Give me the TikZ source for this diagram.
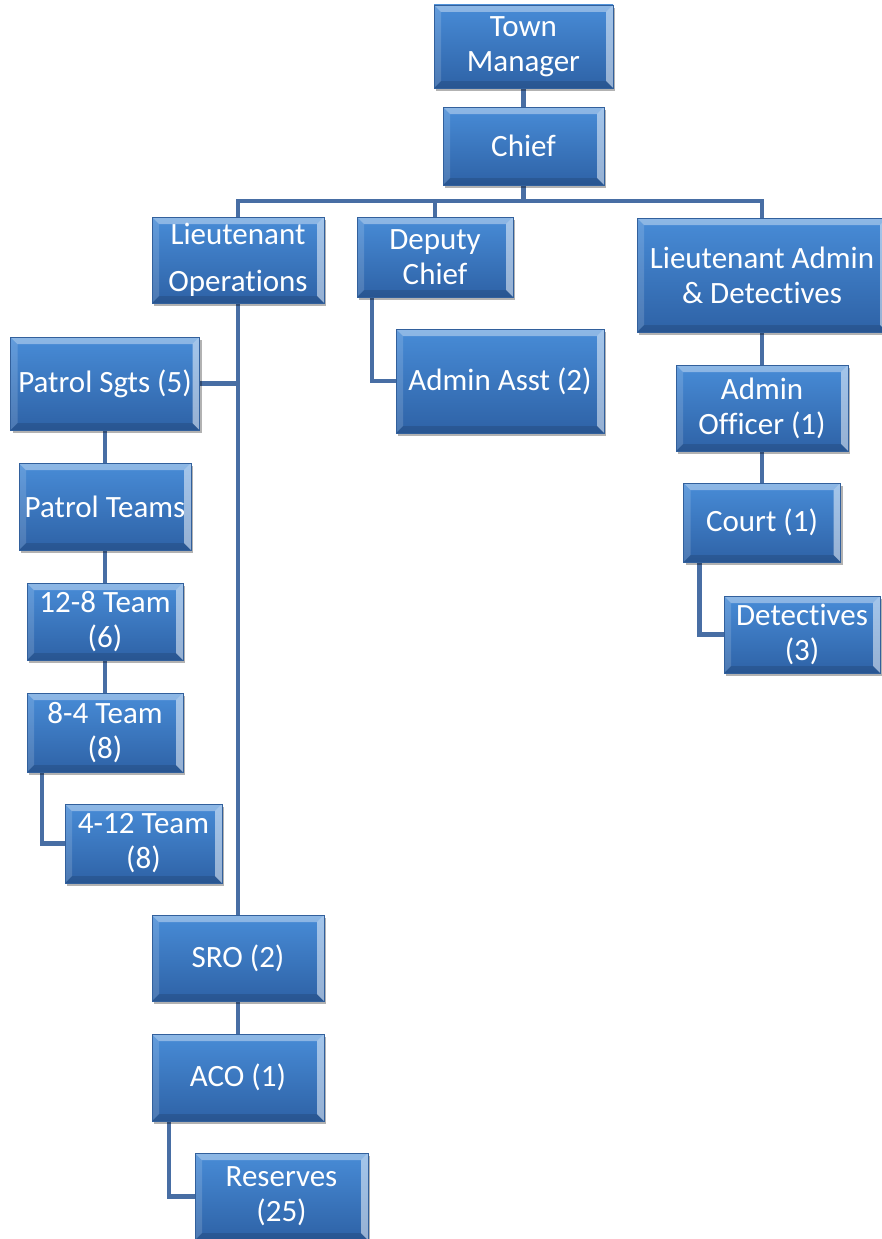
\documentclass[tikz,border=0pt]{standalone}
\usepackage{fontspec}
\setmainfont{Carlito}[Ligatures=NoCommon, RawFeature={-liga;-clig;-calt}]
\usetikzlibrary{shadows,backgrounds}

\definecolor{boxtop}{RGB}{72,140,215}
\definecolor{boxbot}{RGB}{46,98,166}
\definecolor{boxedge}{RGB}{50,96,156}
\definecolor{linkblue}{RGB}{72,110,164}

% keeps "t" and "i" as separate glyphs
\newcommand\dtword{Detec\kern0pt tives}

\tikzset{
  unit/.style={
    draw=boxedge, line width=0.5pt,
    top color=boxtop, bottom color=boxbot,
    text=white, align=center, inner sep=0pt,
    font=\fontsize{31}{35}\selectfont,
    drop shadow={shadow xshift=2pt, shadow yshift=-3pt, opacity=0.3, fill=black},
    path picture={
      % bevelled edges
      \fill[white, opacity=0.38]
        (path picture bounding box.north west) -- (path picture bounding box.north east)
        -- ([shift={(-7pt,-7pt)}]path picture bounding box.north east)
        -- ([shift={(7pt,-7pt)}]path picture bounding box.north west) -- cycle;
      \fill[white, opacity=0.15]
        (path picture bounding box.north west)
        -- ([shift={(7pt,-7pt)}]path picture bounding box.north west)
        -- ([shift={(7pt,7pt)}]path picture bounding box.south west)
        -- (path picture bounding box.south west) -- cycle;
      \fill[white, opacity=0.5]
        (path picture bounding box.north east)
        -- (path picture bounding box.south east)
        -- ([shift={(-7pt,7pt)}]path picture bounding box.south east)
        -- ([shift={(-7pt,-7pt)}]path picture bounding box.north east) -- cycle;
      \fill[black, opacity=0.12]
        (path picture bounding box.south west)
        -- (path picture bounding box.south east)
        -- ([shift={(-7pt,7pt)}]path picture bounding box.south east)
        -- ([shift={(7pt,7pt)}]path picture bounding box.south west) -- cycle;
    }
  },
  link/.style={draw=linkblue, line width=4.5pt}
}

\begin{document}
\begin{tikzpicture}[x=1pt, y=-1pt]
\useasboundingbox (0,0) rectangle (882,1239);

% top of the chain
\node[unit, minimum width=179pt, minimum height=83pt] (tm) at (523.5,46.5) {Town\\Manager};
\node[unit, minimum width=161pt, minimum height=78pt] (chief) at (523.5,146) {Chief};

% second level
\node[unit, minimum width=172pt, minimum height=86pt] (lops) at (238,260) {Lieutenant\\[12pt]Operations};
\node[unit, minimum width=156pt, minimum height=80pt] (dep) at (435,257) {Deputy\\Chief};
\node[unit, minimum width=250pt, minimum height=114pt] (ladm) at (762,275) {Lieutenant Admin\\\& \dtword};

% deputy branch
\node[unit, minimum width=208pt, minimum height=104pt] (aasst) at (500,381) {Admin Asst (2)};

% admin & detectives branch
\node[unit, minimum width=172pt, minimum height=86pt] (aoff) at (762,408) {Admin\\Officer (1)};
\node[unit, minimum width=157pt, minimum height=79pt] (court) at (762,522.5) {Court (1)};
\node[unit, minimum width=156pt, minimum height=77pt] (det) at (802,634.5) {\dtword\\(3)};

% operations branch
\node[unit, minimum width=189pt, minimum height=93pt] (psgt) at (105,383.5) {Patrol Sgts (5)};
\node[unit, minimum width=172pt, minimum height=87pt] (pteam) at (105,506.5) {Patrol Teams};
\node[unit, minimum width=156pt, minimum height=77pt] (t128) at (105,621.5) {12-8 Team\\(6)};
\node[unit, minimum width=156pt, minimum height=79pt] (t84) at (105,732.5) {8-4 Team\\(8)};
\node[unit, minimum width=157pt, minimum height=79pt] (t412) at (143.5,843.5) {4-12 Team\\(8)};
\node[unit, minimum width=172pt, minimum height=86pt] (sro) at (238,958) {SRO (2)};
\node[unit, minimum width=172pt, minimum height=87pt] (aco) at (238,1077.5) {ACO (1)};
\node[unit, minimum width=173pt, minimum height=87pt] (res) at (281.5,1196.5) {Reserves\\(25)};

\coordinate (bus) at (0,201);

\begin{pgfonlayer}{background}
  \draw[link] (tm) -- (chief);
  \draw[link] (chief.south) -- (chief.south |- bus);
  \draw[link] (lops.north) -- (lops.north |- bus) -| (ladm.north);
  \draw[link] (dep.north) -- (dep.north |- bus);

  \draw[link] ([xshift=-63pt]dep.south) |- (aasst.west);

  \draw[link] (ladm) -- (aoff);
  \draw[link] (aoff) -- (court);
  \draw[link] ([xshift=-62.5pt]court.south) |- (det.west);

  \draw[link] (lops.south) -- (sro.north);
  \draw[link] (psgt.east) -- (psgt.east -| lops.south);
  \draw[link] (psgt) -- (pteam);
  \draw[link] (pteam) -- (t128);
  \draw[link] (t128) -- (t84);
  \draw[link] ([xshift=-63pt]t84.south) |- (t412.west);
  \draw[link] (sro) -- (aco);
  \draw[link] ([xshift=-69pt]aco.south) |- (res.west);
\end{pgfonlayer}
\end{tikzpicture}
\end{document}
